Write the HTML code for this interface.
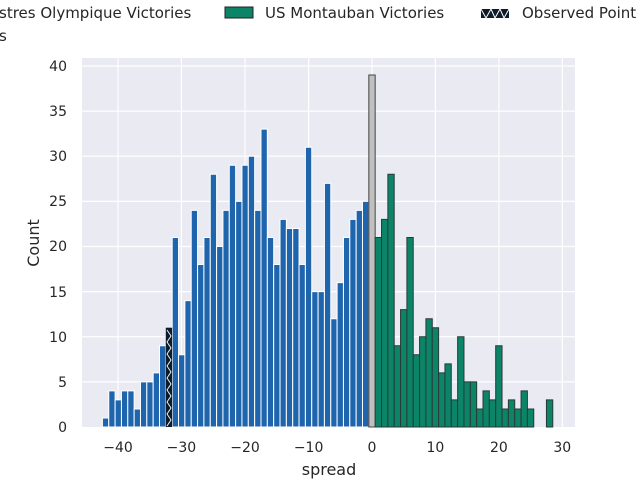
<!DOCTYPE html>
<html><head><meta charset="utf-8"><style>body{margin:0;background:#fff}svg{display:block}text{font-family:"DejaVu Sans","Liberation Sans",sans-serif;fill:#262626}</style></head>
<body>
<svg width="640" height="480" viewBox="0 0 640 480">
<rect x="82" y="58" width="493" height="369" fill="#eaeaf2"/>
<g stroke="#fff" stroke-width="1.2">
<line x1="118" y1="58" x2="118" y2="427"/><line x1="181.4" y1="58" x2="181.4" y2="427"/><line x1="245" y1="58" x2="245" y2="427"/><line x1="308.6" y1="58" x2="308.6" y2="427"/><line x1="372" y1="58" x2="372" y2="427"/><line x1="435.4" y1="58" x2="435.4" y2="427"/><line x1="498.9" y1="58" x2="498.9" y2="427"/><line x1="562.3" y1="58" x2="562.3" y2="427"/>
<line x1="82" y1="381.9" x2="575" y2="381.9"/><line x1="82" y1="336.7" x2="575" y2="336.7"/><line x1="82" y1="291.6" x2="575" y2="291.6"/><line x1="82" y1="246.5" x2="575" y2="246.5"/><line x1="82" y1="201.4" x2="575" y2="201.4"/><line x1="82" y1="156.2" x2="575" y2="156.2"/><line x1="82" y1="111.1" x2="575" y2="111.1"/><line x1="82" y1="66" x2="575" y2="66"/>
</g>
<g transform="translate(372,427) scale(6.343,-9.025)">
<g fill="#1f65ad" stroke="#fff" stroke-width="1">
<rect x="-42.5" y="0" width="1" height="1" vector-effect="non-scaling-stroke"/>
<rect x="-41.5" y="0" width="1" height="4" vector-effect="non-scaling-stroke"/>
<rect x="-40.5" y="0" width="1" height="3" vector-effect="non-scaling-stroke"/>
<rect x="-39.5" y="0" width="1" height="4" vector-effect="non-scaling-stroke"/>
<rect x="-38.5" y="0" width="1" height="4" vector-effect="non-scaling-stroke"/>
<rect x="-37.5" y="0" width="1" height="2" vector-effect="non-scaling-stroke"/>
<rect x="-36.5" y="0" width="1" height="5" vector-effect="non-scaling-stroke"/>
<rect x="-35.5" y="0" width="1" height="5" vector-effect="non-scaling-stroke"/>
<rect x="-34.5" y="0" width="1" height="6" vector-effect="non-scaling-stroke"/>
<rect x="-33.5" y="0" width="1" height="9" vector-effect="non-scaling-stroke"/>
<rect x="-31.5" y="0" width="1" height="21" vector-effect="non-scaling-stroke"/>
<rect x="-30.5" y="0" width="1" height="8" vector-effect="non-scaling-stroke"/>
<rect x="-29.5" y="0" width="1" height="14" vector-effect="non-scaling-stroke"/>
<rect x="-28.5" y="0" width="1" height="24" vector-effect="non-scaling-stroke"/>
<rect x="-27.5" y="0" width="1" height="18" vector-effect="non-scaling-stroke"/>
<rect x="-26.5" y="0" width="1" height="21" vector-effect="non-scaling-stroke"/>
<rect x="-25.5" y="0" width="1" height="28" vector-effect="non-scaling-stroke"/>
<rect x="-24.5" y="0" width="1" height="20" vector-effect="non-scaling-stroke"/>
<rect x="-23.5" y="0" width="1" height="24" vector-effect="non-scaling-stroke"/>
<rect x="-22.5" y="0" width="1" height="29" vector-effect="non-scaling-stroke"/>
<rect x="-21.5" y="0" width="1" height="25" vector-effect="non-scaling-stroke"/>
<rect x="-20.5" y="0" width="1" height="29" vector-effect="non-scaling-stroke"/>
<rect x="-19.5" y="0" width="1" height="30" vector-effect="non-scaling-stroke"/>
<rect x="-18.5" y="0" width="1" height="24" vector-effect="non-scaling-stroke"/>
<rect x="-17.5" y="0" width="1" height="33" vector-effect="non-scaling-stroke"/>
<rect x="-16.5" y="0" width="1" height="21" vector-effect="non-scaling-stroke"/>
<rect x="-15.5" y="0" width="1" height="18" vector-effect="non-scaling-stroke"/>
<rect x="-14.5" y="0" width="1" height="23" vector-effect="non-scaling-stroke"/>
<rect x="-13.5" y="0" width="1" height="22" vector-effect="non-scaling-stroke"/>
<rect x="-12.5" y="0" width="1" height="22" vector-effect="non-scaling-stroke"/>
<rect x="-11.5" y="0" width="1" height="18" vector-effect="non-scaling-stroke"/>
<rect x="-10.5" y="0" width="1" height="31" vector-effect="non-scaling-stroke"/>
<rect x="-9.5" y="0" width="1" height="15" vector-effect="non-scaling-stroke"/>
<rect x="-8.5" y="0" width="1" height="15" vector-effect="non-scaling-stroke"/>
<rect x="-7.5" y="0" width="1" height="27" vector-effect="non-scaling-stroke"/>
<rect x="-6.5" y="0" width="1" height="12" vector-effect="non-scaling-stroke"/>
<rect x="-5.5" y="0" width="1" height="16" vector-effect="non-scaling-stroke"/>
<rect x="-4.5" y="0" width="1" height="21" vector-effect="non-scaling-stroke"/>
<rect x="-3.5" y="0" width="1" height="23" vector-effect="non-scaling-stroke"/>
<rect x="-2.5" y="0" width="1" height="24" vector-effect="non-scaling-stroke"/>
<rect x="-1.5" y="0" width="1" height="25" vector-effect="non-scaling-stroke"/>
</g>
<rect x="-0.5" y="0" width="1" height="39" fill="#c0c0c0" stroke="#444" stroke-width="1" vector-effect="non-scaling-stroke"/>
<g fill="#0b8468" stroke="#2a3a36" stroke-width="1">
<rect x="0.5" y="0" width="1" height="21" vector-effect="non-scaling-stroke"/>
<rect x="1.5" y="0" width="1" height="23" vector-effect="non-scaling-stroke"/>
<rect x="2.5" y="0" width="1" height="28" vector-effect="non-scaling-stroke"/>
<rect x="3.5" y="0" width="1" height="9" vector-effect="non-scaling-stroke"/>
<rect x="4.5" y="0" width="1" height="13" vector-effect="non-scaling-stroke"/>
<rect x="5.5" y="0" width="1" height="21" vector-effect="non-scaling-stroke"/>
<rect x="6.5" y="0" width="1" height="8" vector-effect="non-scaling-stroke"/>
<rect x="7.5" y="0" width="1" height="10" vector-effect="non-scaling-stroke"/>
<rect x="8.5" y="0" width="1" height="12" vector-effect="non-scaling-stroke"/>
<rect x="9.5" y="0" width="1" height="11" vector-effect="non-scaling-stroke"/>
<rect x="10.5" y="0" width="1" height="6" vector-effect="non-scaling-stroke"/>
<rect x="11.5" y="0" width="1" height="7" vector-effect="non-scaling-stroke"/>
<rect x="12.5" y="0" width="1" height="3" vector-effect="non-scaling-stroke"/>
<rect x="13.5" y="0" width="1" height="10" vector-effect="non-scaling-stroke"/>
<rect x="14.5" y="0" width="1" height="5" vector-effect="non-scaling-stroke"/>
<rect x="15.5" y="0" width="1" height="5" vector-effect="non-scaling-stroke"/>
<rect x="16.5" y="0" width="1" height="2" vector-effect="non-scaling-stroke"/>
<rect x="17.5" y="0" width="1" height="4" vector-effect="non-scaling-stroke"/>
<rect x="18.5" y="0" width="1" height="3" vector-effect="non-scaling-stroke"/>
<rect x="19.5" y="0" width="1" height="9" vector-effect="non-scaling-stroke"/>
<rect x="20.5" y="0" width="1" height="2" vector-effect="non-scaling-stroke"/>
<rect x="21.5" y="0" width="1" height="3" vector-effect="non-scaling-stroke"/>
<rect x="22.5" y="0" width="1" height="2" vector-effect="non-scaling-stroke"/>
<rect x="23.5" y="0" width="1" height="4" vector-effect="non-scaling-stroke"/>
<rect x="24.5" y="0" width="1" height="2" vector-effect="non-scaling-stroke"/>
<rect x="27.5" y="0" width="1" height="3" vector-effect="non-scaling-stroke"/>
</g>
</g>
<rect x="165.8" y="327.7" width="6.3" height="99.3" fill="#0d1b2a"/>
<polyline points="167,330 171,336 167,342 171,348 167,354 171,360 167,366 171,372 167,378 171,384 167,390 171,396 167,402 171,408 167,414 171,420 167,426" fill="none" stroke="#fff" stroke-width="0.9"/>
<g font-size="14" text-anchor="middle">
<text x="118" y="452">−40</text><text x="181.4" y="452">−30</text><text x="245" y="452">−20</text><text x="308.6" y="452">−10</text><text x="372" y="452">0</text><text x="435.4" y="452">10</text><text x="498.9" y="452">20</text><text x="562.3" y="452">30</text>
</g>
<g font-size="14" text-anchor="end">
<text x="67" y="432">0</text><text x="67" y="387">5</text><text x="67" y="342">10</text><text x="67" y="297">15</text><text x="67" y="251">20</text><text x="67" y="206">25</text><text x="67" y="161">30</text><text x="67" y="116">35</text><text x="67" y="71">40</text>
</g>
<text x="329" y="475" font-size="16" text-anchor="middle">spread</text>
<text transform="translate(39,243) rotate(-90)" font-size="16" text-anchor="middle">Count</text>
<g font-size="15">
<text x="-1" y="18">stres Olympique Victories</text>
<text x="-1" y="41">s</text>
<rect x="225" y="7" width="28" height="11" fill="#0b8468" stroke="#222" stroke-width="1"/>
<text x="265" y="18">US Montauban Victories</text>
<rect x="481" y="9" width="28" height="9" fill="#0d1b2a"/>
<polyline points="481,9 486,18 491,9 495,18 500,9 504,18 509,9" fill="none" stroke="#fff" stroke-width="1"/>
<text x="522" y="18">Observed Point</text>
</g>
</svg>
</body></html>
